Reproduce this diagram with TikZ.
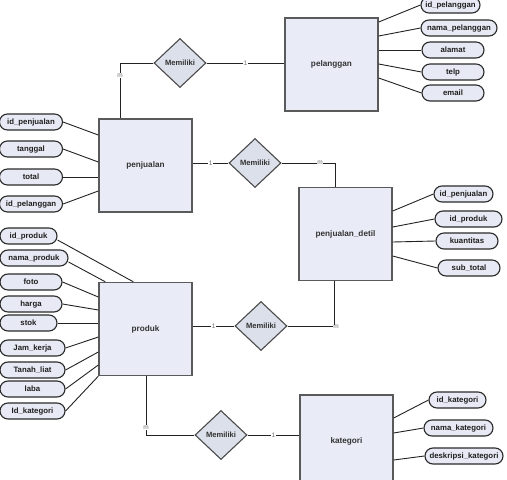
\documentclass[tikz,border=0pt]{standalone}
\usepackage{fontspec}
\setmainfont{Liberation Sans}
\usetikzlibrary{shapes.geometric}
\definecolor{entfill}{HTML}{E9ECF7}
\definecolor{entdraw}{HTML}{5A5A5A}
\definecolor{enttext}{HTML}{333333}
\definecolor{relfill}{HTML}{DCE0EA}
\definecolor{reldraw}{HTML}{4A4A4A}
\definecolor{reltext}{HTML}{333333}
\definecolor{attrfill}{HTML}{E7EAF4}
\definecolor{attrdraw}{HTML}{2A2A2A}
\definecolor{attrtext}{HTML}{1E1E1E}
\definecolor{conncol}{HTML}{222222}
\definecolor{cardtext}{HTML}{707070}
\begin{document}
\begin{tikzpicture}[x=1pt,y=-1pt,
 entity/.style={draw=entdraw, line width=1.4pt, fill=entfill, minimum width=93pt, minimum height=93pt, inner sep=0pt, font=\fontsize{8.2}{9}\selectfont\bfseries, text=enttext},
 rel/.style={diamond, draw=reldraw, line width=1.1pt, fill=relfill, minimum width=52pt, minimum height=49pt, inner sep=0pt, font=\fontsize{7.6}{9}\selectfont\bfseries, text=reltext},
 attr/.style={draw=attrdraw, line width=1.1pt, fill=attrfill, rounded corners=8pt, minimum height=16pt, inner sep=1pt, font=\fontsize{7.8}{9}\selectfont\bfseries, text=attrtext},
 card/.style={fill=white, inner sep=0.6pt, font=\fontsize{6.5}{7}\selectfont, text=cardtext},
 conn/.style={draw=conncol, line width=0.9pt},
]
\useasboundingbox (0,0) rectangle (507,480);
\clip (0,0) rectangle (507,480);

% entities
\node[entity] (pel) at (331.5,64.5) {pelanggan};
\node[entity] (pjl) at (145.5,165.5) {penjualan};
\node[entity] (pdt) at (345.5,234) {penjualan\_detil};
\node[entity] (prd) at (145.5,329) {produk};
\node[entity] (kat) at (346.5,441.5) {kategori};

% relationships
\node[rel] (r1) at (180,63) {Memiliki};
\node[rel] (r2) at (255,163) {Memiliki};
\node[rel] (r3) at (261,326) {Memiliki};
\node[rel] (r4) at (221,435) {Memiliki};

% pelanggan attributes
\node[attr, minimum width=59pt] (a1) at (450.5,5) {id\_pelanggan};
\node[attr, minimum width=76pt] (a2) at (459,28) {nama\_pelanggan};
\node[attr, minimum width=62pt] (a3) at (453,50) {alamat};
\node[attr, minimum width=62pt] (a4) at (453,72) {telp};
\node[attr, minimum width=62pt] (a5) at (453,93) {email};
\draw[conn] (pel.east |- 0,22) -- (a1.west);
\draw[conn] (pel.east |- 0,36) -- (a2.west);
\draw[conn] (pel.east |- 0,50) -- (a3.west);
\draw[conn] (pel.east |- 0,64) -- (a4.west);
\draw[conn] (pel.east |- 0,78) -- (a5.west);

% penjualan attributes
\node[attr, minimum width=63pt] (b1) at (31,122) {id\_penjualan};
\node[attr, minimum width=63pt] (b2) at (31,149) {tanggal};
\node[attr, minimum width=63pt] (b3) at (31,177) {total};
\node[attr, minimum width=63pt] (b4) at (31,204) {id\_pelanggan};
\draw[conn] (b1.east) -- (pjl.west |- 0,135);
\draw[conn] (b2.east) -- (pjl.west |- 0,162);
\draw[conn] (b3.east) -- (pjl.west |- 0,177);
\draw[conn] (b4.east) -- (pjl.west |- 0,191);

% penjualan_detil attributes
\node[attr, minimum width=59pt] (c1) at (463.5,194) {id\_penjualan};
\node[attr, minimum width=67pt] (c2) at (468.5,219) {id\_produk};
\node[attr, minimum width=62pt] (c3) at (467,241) {kuantitas};
\node[attr, minimum width=62pt] (c4) at (469,268) {sub\_total};
\draw[conn] (pdt.east |- 0,211) -- (c1.west);
\draw[conn] (pdt.east |- 0,227) -- (c2.west);
\draw[conn] (pdt.east |- 0,242) -- (c3.west);
\draw[conn] (pdt.east |- 0,256) -- (c4.west);

% produk attributes
\node[attr, minimum width=57pt] (p1) at (28.5,236) {id\_produk};
\node[attr, minimum width=68pt] (p2) at (34,258) {nama\_produk};
\node[attr, minimum width=62pt] (p3) at (31,282) {foto};
\node[attr, minimum width=62pt] (p4) at (31,304) {harga};
\node[attr, minimum width=57pt] (p5) at (28.5,323) {stok};
\node[attr, minimum width=65pt] (p6) at (32.5,348) {Jam\_kerja};
\node[attr, minimum width=65pt] (p7) at (32.5,370) {Tanah\_liat};
\node[attr, minimum width=65pt] (p8) at (32.5,389) {laba};
\node[attr, minimum width=65pt] (p9) at (32.5,411) {Id\_kategori};
\draw[conn] ([yshift=-4pt]p1.east) -- ([xshift=35pt]prd.north west);
\draw[conn] ([yshift=-4pt]p2.east) -- ([xshift=7pt]prd.north west);
\draw[conn] (p3.east) -- (prd.west |- 0,297);
\draw[conn] (p4.east) -- (prd.west |- 0,310);
\draw[conn] (p5.east) -- (prd.west |- 0,323);
\draw[conn] (p6.east) -- (prd.west |- 0,337);
\draw[conn] (p7.east) -- (prd.west |- 0,352);
\draw[conn] (p8.east) -- (prd.west |- 0,365);
\draw[conn] (p9.east) -- (prd.south west);

% kategori attributes
\node[attr, minimum width=57pt] (k1) at (457.5,400) {id\_kategori};
\node[attr, minimum width=69pt] (k2) at (458.5,428) {nama\_kategori};
\node[attr, minimum width=78pt, inner sep=0.5pt] (k3) at (464,456) {deskripsi\_kategori};
\draw[conn] (kat.east |- 0,418) -- (k1.west);
\draw[conn] (kat.east |- 0,433) -- (k2.west);
\draw[conn] (kat.east |- 0,460) -- (k3.west);

% relationship connectors
\coordinate (j1) at (120,63);
\draw[conn] (r1.west) -- (j1) -- node[card, pos=0.23] {m} (j1 |- pjl.north);
\draw[conn] (r1.east) -- node[card] {1} (pel.west |- r1.east);

\draw[conn] (pjl.east |- r2.west) -- node[card] {1} (r2.west);
\coordinate (j2) at (335,163);
\draw[conn] (r2.east) -- node[card, pos=0.72] {m} (j2) -- (j2 |- pdt.north);

\draw[conn] (prd.east |- r3.west) -- node[card] {1} (r3.west);
\coordinate (j3) at (334,326);
\draw[conn] (r3.east) -- (j3) -- (j3 |- pdt.south);
\node[card] (m3) at (336,327) {m};

\coordinate (j4) at (146,435);
\draw[conn] (j4 |- prd.south) -- node[card, pos=0.87] {m} (j4) -- (r4.west);
\draw[conn] (r4.east) -- node[card] {1} (kat.west |- r4.east);
\end{tikzpicture}
\end{document}
